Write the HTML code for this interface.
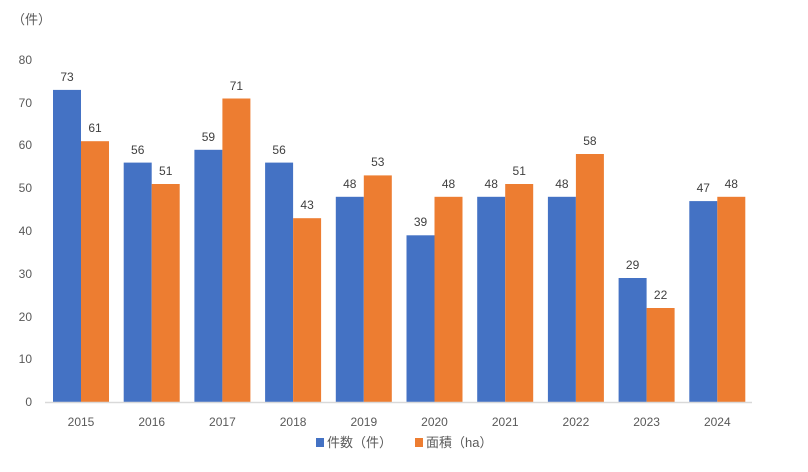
<!DOCTYPE html>
<html><head><meta charset="utf-8"><style>
body{margin:0;background:#fff;}
svg text{font-family:"Liberation Sans","Noto Sans CJK JP",sans-serif;fill:#595959;}
.v{fill:#404040;}
</style></head><body>
<svg width="808" height="467" viewBox="0 0 808 467" xmlns="http://www.w3.org/2000/svg">
<text x="12" y="24" font-size="13">（件）</text>
<g font-size="12" text-anchor="end">
<text x="32" y="406">0</text><text x="32" y="363">10</text><text x="32" y="321">20</text><text x="32" y="278">30</text><text x="32" y="235">40</text><text x="32" y="192">50</text><text x="32" y="149">60</text><text x="32" y="107">70</text><text x="32" y="64">80</text>
</g>
<g fill="#4472c4">
<rect x="53" y="89.9" width="28" height="312.1"/>
<rect x="123.7" y="162.6" width="28" height="239.4"/>
<rect x="194.4" y="149.8" width="28" height="252.2"/>
<rect x="265.1" y="162.6" width="28" height="239.4"/>
<rect x="335.8" y="196.8" width="28" height="205.2"/>
<rect x="406.5" y="235.3" width="28" height="166.7"/>
<rect x="477.2" y="196.8" width="28" height="205.2"/>
<rect x="547.9" y="196.8" width="28" height="205.2"/>
<rect x="618.6" y="278" width="28" height="124"/>
<rect x="689.3" y="201.1" width="28" height="200.9"/>
</g>
<g fill="#ed7d31">
<rect x="81" y="141.2" width="28" height="260.8"/>
<rect x="151.7" y="184" width="28" height="218"/>
<rect x="222.4" y="98.5" width="28" height="303.5"/>
<rect x="293.1" y="218.2" width="28" height="183.8"/>
<rect x="363.8" y="175.4" width="28" height="226.6"/>
<rect x="434.5" y="196.8" width="28" height="205.2"/>
<rect x="505.2" y="184" width="28" height="218"/>
<rect x="575.9" y="154" width="28" height="248"/>
<rect x="646.6" y="308" width="28" height="94"/>
<rect x="717.3" y="196.8" width="28" height="205.2"/>
</g>
<g font-size="12" text-anchor="middle" class="v">
<text class="v" x="67" y="81">73</text><text class="v" x="95" y="132">61</text>
<text class="v" x="137.7" y="154">56</text><text class="v" x="165.7" y="175">51</text>
<text class="v" x="208.4" y="141">59</text><text class="v" x="236.4" y="90">71</text>
<text class="v" x="279.1" y="154">56</text><text class="v" x="307.1" y="209">43</text>
<text class="v" x="349.8" y="188">48</text><text class="v" x="377.8" y="166">53</text>
<text class="v" x="420.5" y="226">39</text><text class="v" x="448.5" y="188">48</text>
<text class="v" x="491.2" y="188">48</text><text class="v" x="519.2" y="175">51</text>
<text class="v" x="561.9" y="188">48</text><text class="v" x="589.9" y="145">58</text>
<text class="v" x="632.6" y="269">29</text><text class="v" x="660.6" y="299">22</text>
<text class="v" x="703.3" y="192">47</text><text class="v" x="731.3" y="188">48</text>
</g>
<g font-size="12" text-anchor="middle">
<text x="81" y="426">2015</text><text x="151.7" y="426">2016</text><text x="222.4" y="426">2017</text><text x="293.1" y="426">2018</text><text x="363.8" y="426">2019</text><text x="434.5" y="426">2020</text><text x="505.2" y="426">2021</text><text x="575.9" y="426">2022</text><text x="646.6" y="426">2023</text><text x="717.3" y="426">2024</text>
</g>
<line x1="45" y1="402.5" x2="752" y2="402.5" stroke="#d9d9d9" stroke-width="1.5"/>
<rect x="316" y="438" width="8" height="9" fill="#4472c4"/>
<text x="327" y="447" font-size="13">件数（件）</text>
<rect x="415" y="438" width="8" height="9" fill="#ed7d31"/>
<text x="426" y="447" font-size="13">面積（ha）</text>
</svg>
</body></html>
